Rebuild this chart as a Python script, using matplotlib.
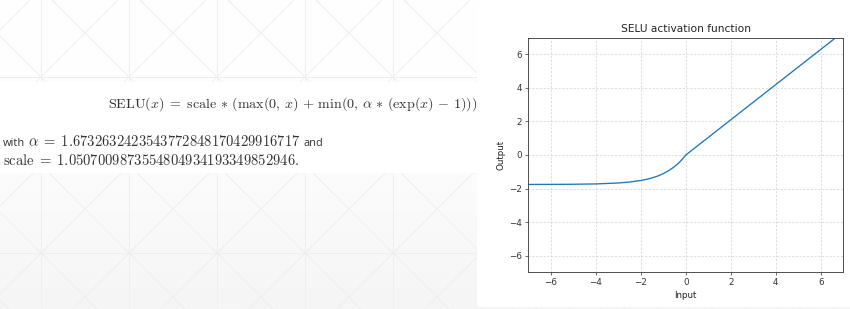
import numpy as np
import matplotlib
matplotlib.use("Agg")
import matplotlib.pyplot as plt
from matplotlib.patches import Rectangle
from matplotlib.colors import LinearSegmentedColormap

# ---- data ----
x_input = [-7, -6, -5, -4, -3, -2.5, -2, -1.75, -1.5, -1.25, -1, -0.75,
           -0.5, -0.375, -0.25, -0.125, 0, 2, 4, 6, 7]
y_output = [-1.757, -1.754, -1.746, -1.726, -1.671, -1.614, -1.520, -1.453,
            -1.367, -1.255, -1.111, -0.927, -0.691, -0.550, -0.389, -0.207,
            0.0, 2.101, 4.203, 6.304, 7.355]
x_ticks = [-6, -4, -2, 0, 2, 4, 6]
y_ticks = [-6, -4, -2, 0, 2, 4, 6]
title_text = "SELU activation function"
x_label = "Input"
y_label = "Output"
formula = (r"$\mathrm{SELU}(x)\;=\;\mathrm{scale}\,*\,(\max(0,\,x)\,+\,"
           r"\min(0,\,\alpha\,*\,(\exp(x)\,-\,1)))$")
alpha_math = r"$\alpha\;=\;1.6732632423543772848170429916717$"
scale_math = r"$\mathrm{scale}\;=\;1.0507009873554804934193349852946.$"

plt.rcParams["mathtext.fontset"] = "cm"
plt.rcParams["font.family"] = ["DejaVu Sans"]

W, H = 850, 309
fig = plt.figure(figsize=(W / 100, H / 100), dpi=100)
fig.patch.set_facecolor("white")

# ---- background (page) ----
bg = fig.add_axes([0, 0, 1, 1], zorder=0)
bg.set_xlim(0, W)
bg.set_ylim(H, 0)
bg.axis("off")
cm_bg = LinearSegmentedColormap.from_list("bgc", ["#ffffff", "#fdfdfd", "#f5f5f5"])
bg.imshow(np.linspace(0, 1, 200)[:, None], extent=[0, W, H, 0], aspect="auto",
          cmap=cm_bg, interpolation="bilinear", zorder=0)
lc = "#eeeeee"
step = 88
for k in range(-2, 12):
    bg.axvline(41 + step * k, color=lc, lw=0.7, zorder=1)
for m in range(-2, 4):
    bg.axhline(77 + 2 * step * m, color=lc, lw=0.7, zorder=1)
xs = np.array([-400, 1300])
for j in range(-10, 25):
    c1 = -36 + step * j
    bg.plot(xs, xs - c1, color=lc, lw=0.7, zorder=1)
    c2 = 118 + step * j
    bg.plot(xs, c2 - xs, color=lc, lw=0.7, zorder=1)
bg.set_xlim(0, W)
bg.set_ylim(H, 0)

# white text band and white plot panel
bg.add_patch(Rectangle((0, 82), 477, 91, facecolor="white", edgecolor="none", zorder=2))
bg.add_patch(Rectangle((477, 0), W - 477, 306.5, facecolor="white", edgecolor="none", zorder=2))

renderer = fig.canvas.get_renderer()
tc = "#333333"

def fit_text(s, x, y, target_w, fs0=12, va="center", **kw):
    t = bg.text(x, y, s, fontsize=fs0, va=va, ha="left", zorder=3, color=tc, **kw)
    w = t.get_window_extent(renderer).width
    t.set_fontsize(fs0 * target_w / w)
    return t

# formula
fit_text(formula, 108, 104, 369)
# scale line
t3 = fit_text(scale_math, 3, 165, 296, va="baseline")
fs_math = t3.get_fontsize()
# alpha line: "with" + math + "and"
sans = ["Open Sans", "DejaVu Sans"]
tw = bg.text(3, 146, "with", fontsize=7.9, family=sans, va="baseline",
             ha="left", zorder=3, color=tc)
x1 = tw.get_window_extent(renderer).x1 + 3
ta = bg.text(x1, 146, alpha_math, fontsize=fs_math, va="baseline", ha="left", zorder=3, color=tc)
x2 = ta.get_window_extent(renderer).x1 + 3
bg.text(x2, 146, "and", fontsize=7.9, family=sans, va="baseline",
        ha="left", zorder=3, color=tc)

# ---- the plot ----
s = 0.635
ax = fig.add_axes([528.3 / W, (H - 272.3) / H, 315.0 / W, 234.6 / H], zorder=2)
ax.plot(x_input, y_output, color="#1f77b4", lw=1.5 * s)
ax.set_xlim(-7, 7)
ax.set_ylim(-7, 7)
ax.set_xticks(x_ticks)
ax.set_yticks(y_ticks)
ax.grid(True, linestyle="--", color="#b0b0b0", alpha=0.6, lw=0.8 * s, dashes=(4 * s * 1.2, 3 * s * 1.2))
ax.set_title(title_text, fontsize=12 * s, pad=6 * s, color="#222222")
ax.set_xlabel(x_label, fontsize=10 * s, labelpad=4 * s, color="#222222")
ax.set_ylabel(y_label, fontsize=10 * s, labelpad=4 * s, color="#222222")
ax.tick_params(labelsize=10 * s, length=3.5 * s, width=0.8 * s, pad=3.5 * s,
               colors="#333333")
for sp in ax.spines.values():
    sp.set_linewidth(0.8 * s * 1.3)
    sp.set_color("#444444")

fig.savefig("out.png", dpi=100)
